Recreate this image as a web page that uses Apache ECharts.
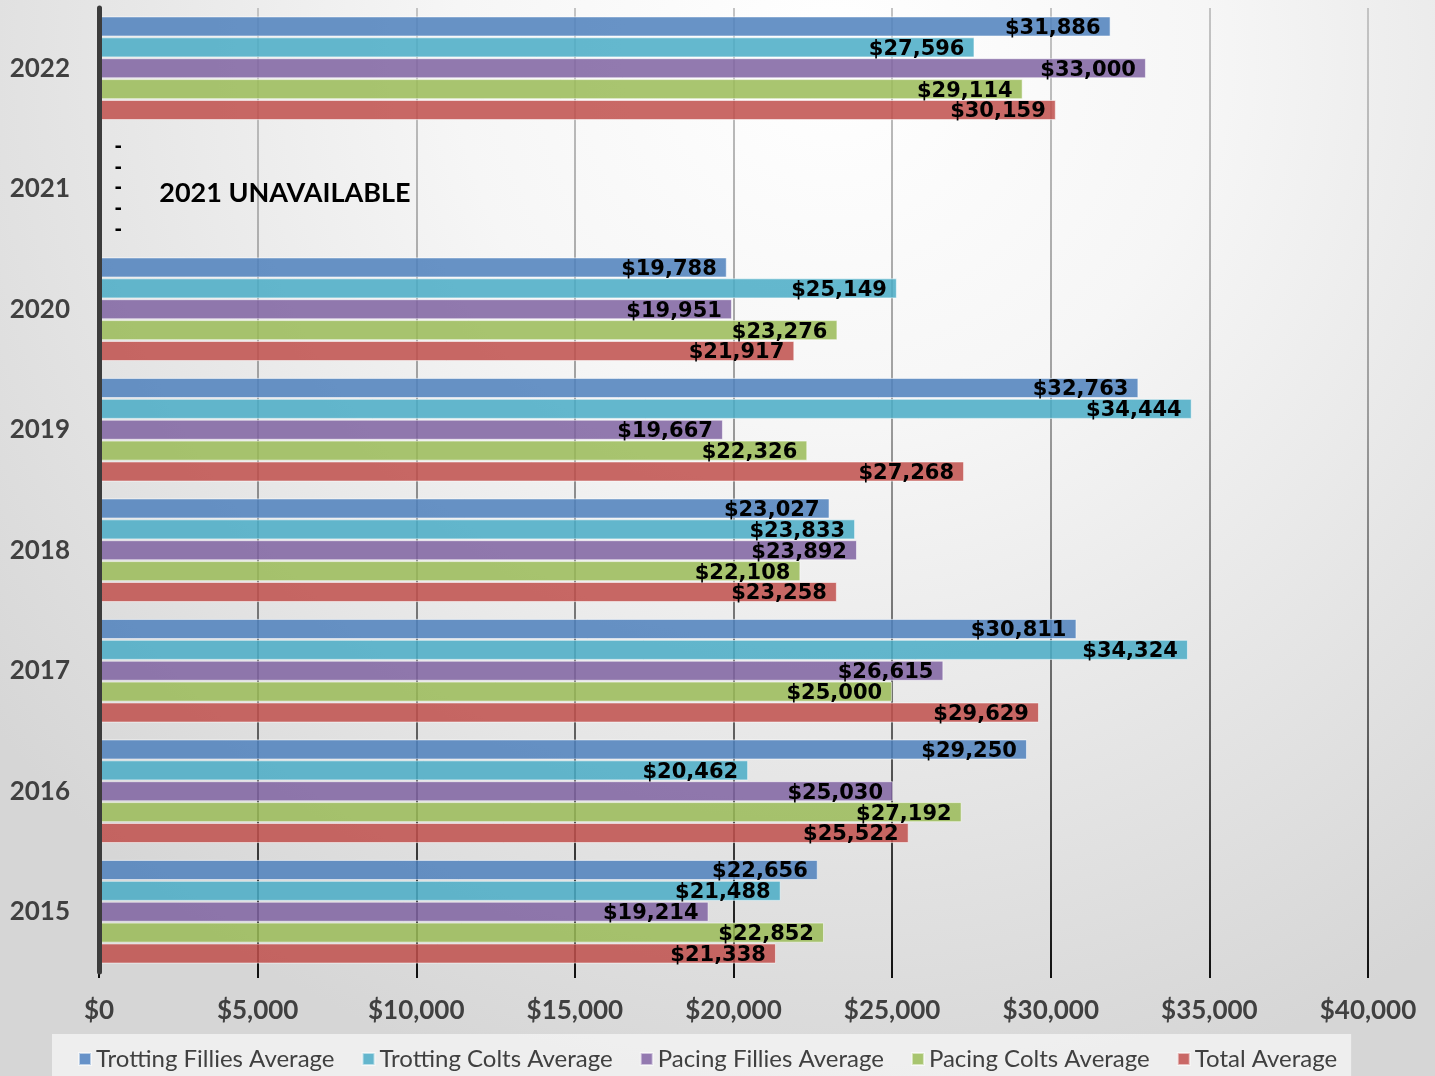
<!DOCTYPE html>
<html>
<head>
<meta charset="utf-8">
<script src="https://cdn.jsdelivr.net/npm/echarts@6/dist/echarts.min.js"></script>
<style>
html,body{margin:0;padding:0;width:1435px;height:1076px;overflow:hidden;}
#c{width:1435px;height:1076px;}
</style>
</head>
<body>
<div id="c"></div>
<script>
const years = ['2015','2016','2017','2018','2019','2020','2021','2022'];
const trottingFillies = [22656, 29250, 30811, 23027, 32763, 19788, 0, 31886];
const trottingColts   = [21488, 20462, 34324, 23833, 34444, 25149, 0, 27596];
const pacingFillies   = [19214, 25030, 26615, 23892, 19667, 19951, 0, 33000];
const pacingColts     = [22852, 27192, 25000, 22108, 22326, 23276, 0, 29114];
const totalAverage    = [21338, 25522, 29629, 23258, 27268, 21917, 0, 30159];
const xTicks = [0, 5000, 10000, 15000, 20000, 25000, 30000, 35000, 40000];
const seriesNames = ['Trotting Fillies Average','Trotting Colts Average','Pacing Fillies Average','Pacing Colts Average','Total Average'];
const seriesColors = ['rgba(79,129,189,0.86)','rgba(75,172,198,0.86)','rgba(128,100,162,0.86)','rgba(155,187,89,0.86)','rgba(192,80,77,0.86)'];
const legendColors = ['#6792c8','#64b6cd','#9379b0','#a8c56f','#c96866'];
const unavailableNote = '2021 UNAVAILABLE';

const FONT = 'Lato, "Open Sans", sans-serif';
const LABEL_FONT = '"DejaVu Sans", sans-serif';
const fmt = v => '$' + v.toLocaleString('en-US');

const allData = [trottingFillies, trottingColts, pacingFillies, pacingColts, totalAverage];

const chart = echarts.init(document.getElementById('c'), null, {renderer:'canvas'});

const series = allData.map((arr, i) => ({
  name: seriesNames[i],
  type: 'bar',
  barGap: '4%',
  barCategoryGap: '14%',
  itemStyle: { color: seriesColors[i], borderColor: 'rgba(255,255,255,0.55)', borderWidth: 1 },
  label: {
    show: true,
    position: 'insideRight',
    distance: 10,
    color: '#000',
    fontFamily: LABEL_FONT,
    fontWeight: 'bold',
    fontSize: 21,
    offset: [0, 2],
    formatter: p => fmt(p.value)
  },
  data: arr.map(v => v === 0 ? {
    value: 0,
    label: { position: 'insideLeft', distance: 16, formatter: '-', fontSize: 18, offset:[0,0] }
  } : v)
}));

const option = {
  backgroundColor: {
    type: 'radial', x: 0.58, y: 0.05, r: 1.0,
    colorStops: [{offset:0, color:'#ffffff'},{offset:0.35,color:'#f6f6f6'},{offset:1, color:'#d6d6d6'}]
  },
  animation: false,
  color: legendColors,
  grid: { left: 99, right: 67, top: 8, bottom: 104, containLabel: false },
  legend: {
    left: 52, top: 1034,
    padding: [13, 14, 12, 26],
    backgroundColor: 'rgba(245,245,245,0.75)',
    icon: 'rect', itemWidth: 12, itemHeight: 12, itemGap: 27, itemTextGap: 7,
    textStyle: { color: '#404040', fontFamily: FONT, fontSize: 24 },
    data: seriesNames.map((n, i) => ({ name: n, itemStyle: { color: legendColors[i] } }))
  },
  xAxis: {
    type: 'value', min: 0, max: 40000, interval: 5000,
    axisLine: { show: false },
    axisTick: { show: true, length: 6, lineStyle: { color: '#111', width: 2 } },
    axisLabel: {
      margin: 26, color: '#404040', fontFamily: FONT, fontWeight: 'bold', fontSize: 26,
      formatter: v => xTicks.includes(v) ? fmt(v) : ''
    },
    splitLine: {
      show: true,
      lineStyle: {
        width: 2,
        color: { type: 'linear', x: 0, y: 0, x2: 0, y2: 1, colorStops: [
          {offset:0, color:'#c4c4c4'}, {offset:0.4, color:'#a0a0a0'}, {offset:0.75, color:'#606060'}, {offset:1, color:'#111111'}
        ]}
      }
    }
  },
  yAxis: {
    type: 'category', data: years, zlevel: 1, z: 10,
    axisLine: { show: true, lineStyle: { color: '#3c3c3c', width: 5 } },
    axisTick: { show: false },
    axisLabel: { margin: 29, color: '#404040', fontFamily: FONT, fontWeight: 'bold', fontSize: 26 },
    splitLine: { show: false }
  },
  series: series
};

chart.setOption(option);

const px = chart.convertToPixel({xAxisIndex: 0}, 1900);
const py = chart.convertToPixel({yAxisIndex: 0}, '2021');
chart.setOption({
  graphic: [{
    type: 'text', left: px, top: py - 9,
    style: { text: unavailableNote, fill: '#000', font: 'bold 27px ' + FONT }
  }]
});
</script>
</body>
</html>
